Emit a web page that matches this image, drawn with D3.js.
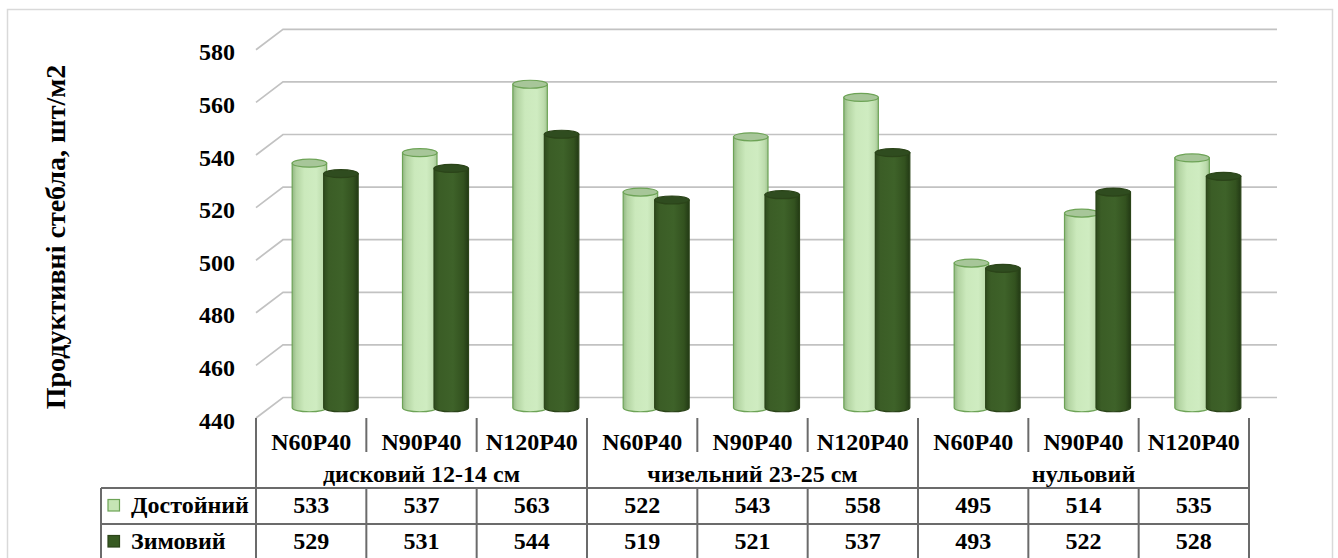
<!DOCTYPE html>
<html>
<head>
<meta charset="utf-8">
<script src="https://cdn.jsdelivr.net/npm/d3@7"></script>
<style>
  html, body { margin: 0; padding: 0; background: #ffffff; }
  svg { display: block; }
  text { font-family: "Liberation Serif", "Times New Roman", serif; font-weight: bold; fill: #000; }
</style>
</head>
<body>
<svg id="chart" width="1338" height="558"></svg>
<script>
// Data
const categories = ["N60P40", "N90P40", "N120P40", "N60P40", "N90P40", "N120P40", "N60P40", "N90P40", "N120P40"];
const groups = ["дисковий 12-14 см", "чизельний 23-25 см", "нульовий"];
const seriesNames = ["Достойний", "Зимовий"];
const dostoinyi = [533, 537, 563, 522, 543, 558, 495, 514, 535];
const zymovyi = [529, 531, 544, 519, 521, 537, 493, 522, 528];
const yTicks = [440, 460, 480, 500, 520, 540, 560, 580];
const yTitle = "Продуктивні стебла, шт/м2";

const svg = d3.select("#chart");
const W = 1338, H = 558;

// Layout
const tableLeft = 101, plotLeft = 256, plotRight = 1249;
const depthX = 27, depthY = -20.5;           // back wall offset from front plane
const midY = depthY / 2;
const backRight = 1277;

const x = d3.scaleBand().domain(d3.range(categories.length)).range([plotLeft, plotRight]).padding(0);
// y on the back wall
const y = d3.scaleLinear().domain([440, 580]).range([397.5, 29.3]);

// Chart frame
svg.append("rect").attr("x", 7.5).attr("y", 9.5).attr("width", 1325).attr("height", H + 10)
  .attr("fill", "#fff").attr("stroke", "#d9d9d9").attr("stroke-width", 1.5);

// Gridlines: side diagonal plus back wall line
const grid = svg.append("g").attr("stroke", "#c2c2c2").attr("stroke-width", 1.7).attr("fill", "none");
yTicks.forEach(v => {
  const yb = y(v);
  grid.append("path")
    .attr("d", `M${plotLeft},${yb - depthY} L${plotLeft + depthX},${yb} L${backRight},${yb}`);
});

// Y tick labels
svg.append("g").selectAll("text").data(yTicks).join("text")
  .attr("x", 235).attr("y", d => y(d) - depthY + 2.5)
  .attr("text-anchor", "end").attr("dominant-baseline", "central")
  .attr("font-size", 24).text(d => d);

// Y title
svg.append("text")
  .attr("transform", "translate(65,237) rotate(-90)")
  .attr("text-anchor", "middle").attr("font-size", 28).text(yTitle);

// Gradients for cylinders
const defs = svg.append("defs");
function grad(id, stops) {
  const g = defs.append("linearGradient").attr("id", id).attr("x1", "0").attr("x2", "1").attr("y1", "0").attr("y2", "0");
  stops.forEach(([o, c]) => g.append("stop").attr("offset", o).attr("stop-color", c));
}
grad("gLight", [[0, "#93b784"], [0.12, "#b3d4a2"], [0.35, "#cbe9bc"], [0.7, "#cfecc1"], [0.9, "#bddcad"], [1, "#a3c593"]]);
grad("gDark", [[0, "#2e4a1d"], [0.15, "#3b5d26"], [0.55, "#3e6229"], [0.85, "#33521f"], [1, "#233a15"]]);

const barW = 34.5, ry = 4;
const series = [
  { values: dostoinyi, off: -19, fill: "url(#gLight)", top: "#a7c699", stroke: "#6da356" },
  { values: zymovyi, off: 12.5, fill: "url(#gDark)", top: "#2f4c1f", stroke: "#2b4419" }
];

const bars = svg.append("g");
categories.forEach((c, i) => {
  const cx = x(i) + x.bandwidth() / 2;
  series.forEach(s => {
    const L = cx + s.off;
    const R = L + barW;
    const rx = barW / 2;
    const T = y(s.values[i]) - midY;
    const B = y(440) - midY;
    const g = bars.append("g");
    g.append("path")
      .attr("d", `M${L},${T} L${L},${B} A${rx},${ry} 0 0 0 ${R},${B} L${R},${T} Z`)
      .attr("fill", s.fill).attr("stroke", s.stroke).attr("stroke-width", 1.2);
    g.append("ellipse")
      .attr("cx", L + rx).attr("cy", T).attr("rx", rx).attr("ry", ry)
      .attr("fill", s.top).attr("stroke", s.stroke).attr("stroke-width", 1.2);
  });
});

// Data table
const rowTop = 418, catRowBottom = 452, groupRowBottom = 488, rowH = 36;
const lineColor = "#6b6b6b";
const tbl = svg.append("g").attr("stroke", lineColor).attr("stroke-width", 2).attr("fill", "none");

// Vertical separators
d3.range(categories.length + 1).forEach(i => {
  const xx = i < categories.length ? x(i) : plotRight;
  const full = i % 3 === 0;
  if (full) {
    tbl.append("line").attr("x1", xx).attr("x2", xx).attr("y1", rowTop).attr("y2", H + 5);
  } else {
    tbl.append("line").attr("x1", xx).attr("x2", xx).attr("y1", rowTop).attr("y2", catRowBottom);
    tbl.append("line").attr("x1", xx).attr("x2", xx).attr("y1", groupRowBottom).attr("y2", H + 5);
  }
});
// Horizontal lines
[groupRowBottom, groupRowBottom + rowH].forEach(yy => {
  tbl.append("line").attr("x1", tableLeft).attr("x2", plotRight).attr("y1", yy).attr("y2", yy);
});
tbl.append("line").attr("x1", tableLeft).attr("x2", tableLeft).attr("y1", groupRowBottom).attr("y2", H + 5);

// Category labels
svg.append("g").selectAll("text").data(categories).join("text")
  .attr("x", (d, i) => x(i) + x.bandwidth() / 2).attr("y", 450)
  .attr("text-anchor", "middle").attr("font-size", 24).text(d => d);

// Group labels
svg.append("g").selectAll("text").data(groups).join("text")
  .attr("x", (d, i) => (x(i * 3) + (i * 3 + 3 < categories.length ? x(i * 3 + 3) : plotRight)) / 2)
  .attr("y", 482).attr("text-anchor", "middle").attr("font-size", 24).text(d => d);

// Value rows with legend keys
const rows = [dostoinyi, zymovyi];
rows.forEach((vals, r) => {
  const base = groupRowBottom + rowH * r;
  svg.append("rect").attr("x", 108).attr("y", base + 11.5).attr("width", 11.5).attr("height", 11.5)
    .attr("fill", r === 0 ? "#c6e5b5" : "#375a22")
    .attr("stroke", r === 0 ? "#6da356" : "#2b4419").attr("stroke-width", 1.2);
  svg.append("text").attr("x", 131).attr("y", base + 25).attr("font-size", 24).text(seriesNames[r]);
  svg.append("g").selectAll("text").data(vals).join("text")
    .attr("x", (d, i) => x(i) + x.bandwidth() / 2).attr("y", base + 25)
    .attr("text-anchor", "middle").attr("font-size", 24).text(d => d);
});
</script>
</body>
</html>
